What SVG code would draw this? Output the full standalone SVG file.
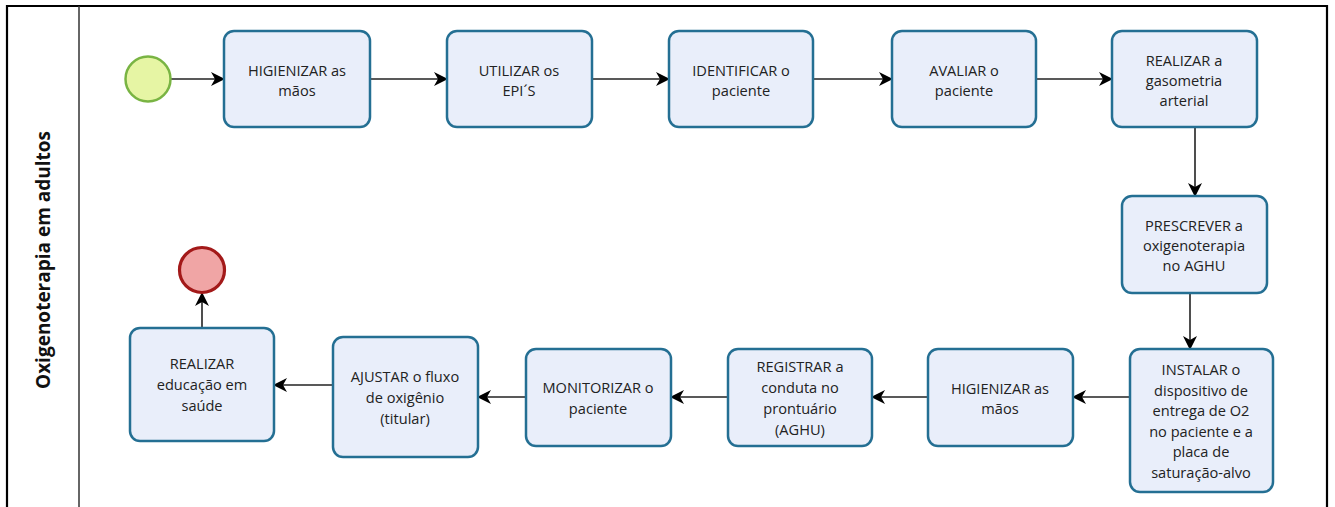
<svg xmlns="http://www.w3.org/2000/svg" width="1335" height="507" viewBox="0 0 1335 507">
<defs>
<style>
.task rect{fill:#e9eefa;stroke:#246f93;stroke-width:2.5}
.task text{font-family:"Open Sans","Noto Sans",sans-serif;font-size:14.6px;fill:#222;text-anchor:middle;dominant-baseline:central}
.conn path{fill:none;stroke:#222;stroke-width:1.6;marker-end:url(#arr)}
</style>
<marker id="arr" viewBox="0 0 14 14" refX="13" refY="7" markerWidth="14" markerHeight="14" markerUnits="userSpaceOnUse" orient="auto">
<path d="M0,0 L14,7 L0,14 L4,7 Z" fill="#000"/>
</marker>
</defs>
<rect x="0" y="0" width="1335" height="507" fill="#fff"/>
<g id="pool">
<path d="M7,515 V6 H1327 V515" fill="none" stroke="#000" stroke-width="2.2"/>
<line x1="79" y1="6" x2="79" y2="515" stroke="#333" stroke-width="1.5"/>
<text transform="translate(43,260) rotate(-90)" text-anchor="middle" dominant-baseline="central" font-family="Open Sans, Noto Sans, sans-serif" font-size="19" font-weight="bold" fill="#111">Oxigenoterapia em adultos</text>
</g>
<g class="conn" id="connectors">
<path d="M171,79 H224"/>
<path d="M370,79 H447"/>
<path d="M592,79 H669"/>
<path d="M813,79 H892"/>
<path d="M1036,79 H1112"/>
<path d="M1195,127 V196"/>
<path d="M1190,293 V349"/>
<path d="M1130,397 H1073"/>
<path d="M928,397 H872"/>
<path d="M728,397 H671"/>
<path d="M526,397 H478"/>
<path d="M333,385 H274"/>
<path d="M202,328 V293"/>
</g>
<g id="start"><circle cx="148" cy="79" r="22.5" fill="#e6f5a4" stroke="#79b443" stroke-width="2.5"/></g>
<g id="end"><circle cx="202" cy="270" r="22.5" fill="#f0a5a5" stroke="#a31919" stroke-width="3.2"/></g>
<g class="task" id="t1"><rect x="224" y="31" width="146" height="96" rx="10"/><text x="297" y="70">HIGIENIZAR as</text><text x="297" y="90">mãos</text></g>
<g class="task" id="t2"><rect x="447" y="31" width="145" height="96" rx="10"/><text x="519" y="70">UTILIZAR os</text><text x="519" y="90">EPI´S</text></g>
<g class="task" id="t3"><rect x="669" y="31" width="144" height="96" rx="10"/><text x="741" y="70">IDENTIFICAR o</text><text x="741" y="90">paciente</text></g>
<g class="task" id="t4"><rect x="892" y="31" width="144" height="96" rx="10"/><text x="964" y="70">AVALIAR o</text><text x="964" y="90">paciente</text></g>
<g class="task" id="t5"><rect x="1112" y="31" width="145" height="96" rx="10"/><text x="1184" y="60">REALIZAR a</text><text x="1184" y="80">gasometria</text><text x="1184" y="100">arterial</text></g>
<g class="task" id="t6"><rect x="1122" y="196" width="145" height="97" rx="10"/><text x="1194" y="225">PRESCREVER a</text><text x="1194" y="245">oxigenoterapia</text><text x="1194" y="265">no AGHU</text></g>
<g class="task" id="t7"><rect x="1130" y="349" width="143" height="143" rx="10"/><text x="1201" y="369">INSTALAR o</text><text x="1201" y="389.5">dispositivo de</text><text x="1201" y="410">entrega de O2</text><text x="1201" y="430.5">no paciente e a</text><text x="1201" y="451">placa de</text><text x="1201" y="471.5">saturação-alvo</text></g>
<g class="task" id="t8"><rect x="928" y="349" width="145" height="97" rx="10"/><text x="1000" y="388">HIGIENIZAR as</text><text x="1000" y="408">mãos</text></g>
<g class="task" id="t9"><rect x="728" y="349" width="144" height="97" rx="10"/><text x="800" y="366">REGISTRAR a</text><text x="800" y="387">conduta no</text><text x="800" y="408">prontuário</text><text x="800" y="429">(AGHU)</text></g>
<g class="task" id="t10"><rect x="526" y="349" width="145" height="97" rx="10"/><text x="598" y="387">MONITORIZAR o</text><text x="598" y="408">paciente</text></g>
<g class="task" id="t11"><rect x="333" y="337" width="145" height="120" rx="10"/><text x="405" y="376">AJUSTAR o fluxo</text><text x="405" y="397">de oxigênio</text><text x="405" y="418">(titular)</text></g>
<g class="task" id="t12"><rect x="130" y="328" width="144" height="113" rx="10"/><text x="202" y="363">REALIZAR</text><text x="202" y="384">educação em</text><text x="202" y="405">saúde</text></g>
</svg>
